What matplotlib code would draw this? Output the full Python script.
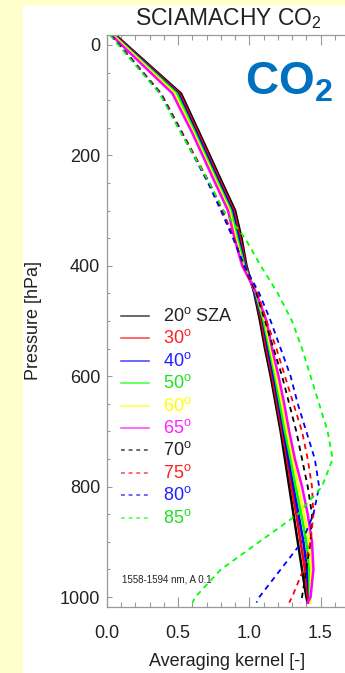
import matplotlib
matplotlib.use("Agg")
import matplotlib.pyplot as plt
from matplotlib.lines import Line2D
from matplotlib.patches import Rectangle

plt.rcParams["font.family"] = ["Liberation Sans", "DejaVu Sans"]
plt.rcParams["mathtext.fontset"] = "custom"
plt.rcParams["mathtext.rm"] = "Liberation Sans"
plt.rcParams["mathtext.it"] = "Liberation Sans:italic"
plt.rcParams["mathtext.bf"] = "Liberation Sans:bold"

# Pressure levels [hPa]
pressure = [-18, 88, 160, 250, 300, 350, 400, 450, 500, 550, 600,
            650, 700, 750, 800, 850, 900, 950, 1000, 1010]

# Column averaging kernels per solar zenith angle
ak_20 = [0.06, 0.52, 0.65, 0.81, 0.90, 0.945, 0.98, 1.035, 1.075, 1.11, 1.15,
         1.185, 1.22, 1.25, 1.28, 1.31, 1.34, 1.37, 1.40, 1.41]
ak_30 = [0.055, 0.51, 0.64, 0.80, 0.89, 0.935, 0.975, 1.04, 1.085, 1.12, 1.16,
         1.195, 1.23, 1.265, 1.295, 1.33, 1.36, 1.39, 1.41, 1.415]
ak_40 = [0.05, 0.50, 0.63, 0.79, 0.88, 0.925, 0.97, 1.04, 1.095, 1.13, 1.17,
         1.205, 1.24, 1.275, 1.31, 1.345, 1.38, 1.405, 1.42, 1.42]
ak_50 = [0.045, 0.49, 0.62, 0.78, 0.87, 0.915, 0.965, 1.045, 1.10, 1.14, 1.18,
         1.215, 1.25, 1.29, 1.325, 1.365, 1.40, 1.42, 1.425, 1.425]
ak_60 = [0.04, 0.475, 0.61, 0.77, 0.86, 0.905, 0.955, 1.05, 1.11, 1.15, 1.19,
         1.23, 1.265, 1.305, 1.345, 1.385, 1.42, 1.435, 1.43, 1.425]
ak_65 = [0.03, 0.46, 0.60, 0.76, 0.85, 0.895, 0.95, 1.05, 1.12, 1.16, 1.205,
         1.245, 1.28, 1.32, 1.37, 1.41, 1.44, 1.45, 1.43, 1.41]
ak_70 = [0.03, 0.38, 0.53, 0.72, 0.81, 0.89, 0.96, 1.05, 1.11, 1.17, 1.23,
         1.28, 1.33, 1.37, 1.41, 1.44, 1.43, 1.40, 1.37, 1.36]
ak_75 = [0.03, 0.38, 0.53, 0.72, 0.81, 0.89, 0.96, 1.06, 1.12, 1.19, 1.25,
         1.31, 1.37, 1.41, 1.44, 1.45, 1.43, 1.38, 1.30, 1.28]
ak_80 = [0.025, 0.375, 0.525, 0.71, 0.80, 0.885, 0.965, 1.07, 1.15, 1.22, 1.29,
         1.34, 1.40, 1.46, 1.49, 1.45, 1.37, 1.22, 1.07, 1.05]
ak_85 = [0.02, 0.37, 0.52, 0.72, 0.82, 0.97, 1.08, 1.20, 1.30, 1.37, 1.43,
         1.49, 1.55, 1.585, 1.51, 1.34, 1.07, 0.80, 0.62, 0.60]

series = [ak_20, ak_30, ak_40, ak_50, ak_60, ak_65, ak_70, ak_75, ak_80, ak_85]
labels = ["20$^{\\rm o}$ SZA", "30$^{\\rm o}$", "40$^{\\rm o}$", "50$^{\\rm o}$",
          "60$^{\\rm o}$", "65$^{\\rm o}$", "70$^{\\rm o}$", "75$^{\\rm o}$",
          "80$^{\\rm o}$", "85$^{\\rm o}$"]
colors = ["#000000", "#FF0000", "#0000FF", "#00FF00", "#FFFF00", "#FF00FF",
          "#000000", "#FF0000", "#0000FF", "#00FF00"]
text_colors = ["#222222", "#FF2020", "#2020FF", "#20E020", "#FFFF00", "#FF20FF",
               "#222222", "#FF2020", "#2020FF", "#20E020"]
styles = ["-"] * 6 + ["--"] * 4

W, H = 345, 673
fig = plt.figure(figsize=(W / 100, H / 100), dpi=100, facecolor="#FFFFCC")
fig.add_artist(Rectangle((23 / W, 0), 1, 1 - 6 / H, transform=fig.transFigure,
                         facecolor="white", edgecolor="none", zorder=-10))

ax_l, ax_r, ax_t, ax_b = 107, 349, 35, 607
ax = fig.add_axes([ax_l / W, 1 - ax_b / H, (ax_r - ax_l) / W, (ax_b - ax_t) / H])
ax.set_facecolor("white")

for vals, c, ls in zip(series, colors, styles):
    if ls == "-":
        ax.plot(vals, pressure, color=c, lw=1.8, solid_joinstyle="round")
    else:
        ax.plot(vals, pressure, color=c, lw=1.3, linestyle=(0, (3, 2.5)))

ax.set_xlim(0, 1.7)
ax.set_ylim(1018, -18)
ax.set_xticks([0.0, 0.5, 1.0, 1.5])
ax.set_xticks([i / 10 for i in range(18)], minor=True)
ax.set_yticks([0, 200, 400, 600, 800, 1000])
ax.set_yticks(list(range(0, 1001, 50)), minor=True)
ax.set_xticklabels(["0.0", "0.5", "1.0", "1.5"])
ax.tick_params(axis="x", which="major", direction="in", length=7.5, width=0.8,
               color="#999999", top=True, pad=13, labelsize=13, labelcolor="#222222")
ax.tick_params(axis="x", which="minor", direction="in", length=3.8, width=0.8,
               color="#999999", top=True)
ax.tick_params(axis="y", which="major", direction="in", length=3.8, width=0.8,
               color="#999999", pad=5, labelsize=13, labelcolor="#222222")
ax.tick_params(axis="y", which="minor", direction="in", length=2.2, width=0.8,
               color="#999999")
for s in ax.spines.values():
    s.set_color("#999999")
    s.set_linewidth(0.9)

ax.set_title("SCIAMACHY CO$_2$", fontsize=16.5, color="#222222", pad=7.2)
ax.set_xlabel("Averaging kernel [-]", fontsize=13, color="#222222")
ax.xaxis.set_label_coords(0.498, -0.08)
ax.set_ylabel("Pressure [hPa]", fontsize=13, color="#222222")
ax.yaxis.set_label_coords(-0.27, 0.5)

fig.text(245 / W, 1 - 95 / H, "$\\mathbf{CO_2}$", fontsize=33, color="#0070C0",
         ha="left", va="baseline")
fig.text(122 / W, 1 - 579 / H, "1558-1594 nm, A 0.1", fontsize=7, color="#222222",
         ha="left", va="center")

# Key
for i, (lab, c, tc, ls) in enumerate(zip(labels, colors, text_colors, styles)):
    y = 1 - (316 + 22.4 * i) / H
    dash = "-" if ls == "-" else (0, (2.5, 2.5))
    fig.add_artist(Line2D([121 / W, 149 / W], [y, y], transform=fig.transFigure,
                          color=c, lw=1.1, linestyle=dash, alpha=0.75))
    fig.text(163 / W, y, lab, fontsize=13, color=tc, ha="left", va="center")

fig.savefig("out.png", dpi=100, facecolor=fig.get_facecolor())
